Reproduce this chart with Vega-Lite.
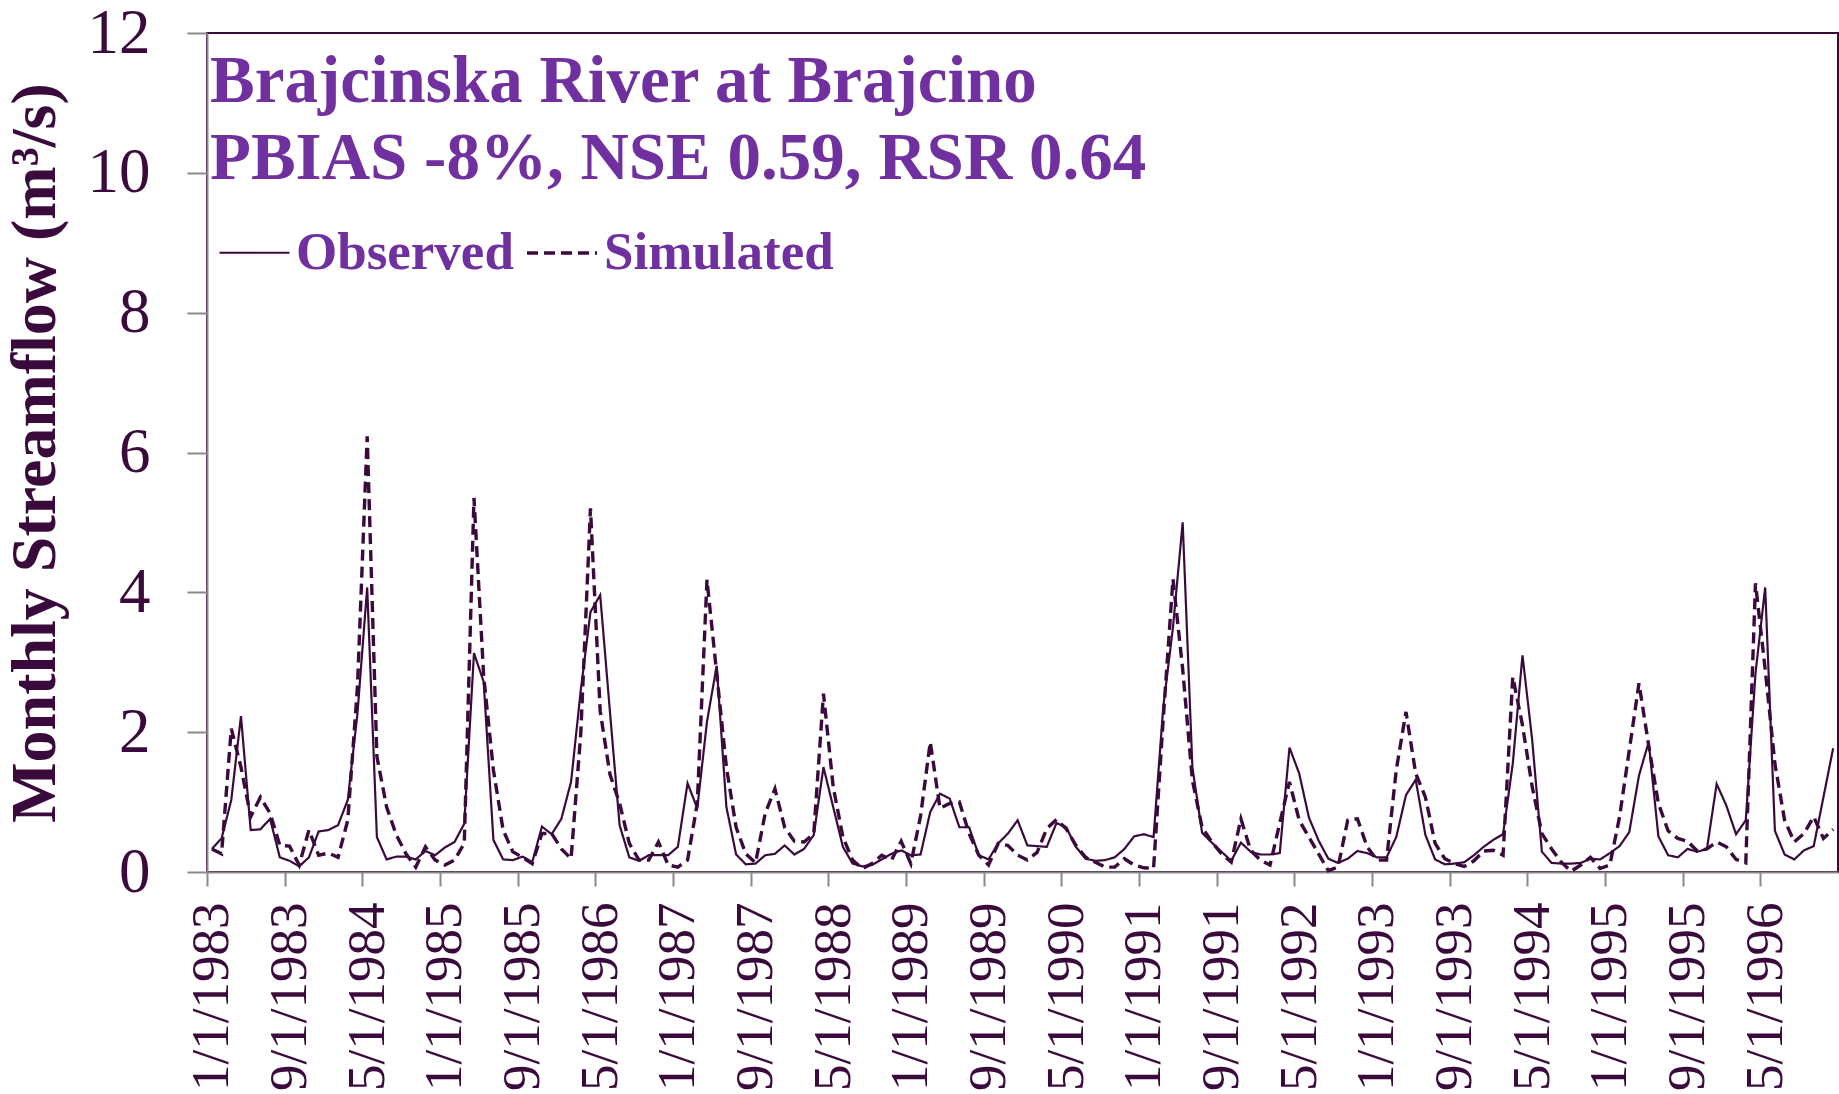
{
"$schema": "https://vega.github.io/schema/vega-lite/v6.json",
"width": 1631, "height": 839,
"autosize": {"type": "none"},
"padding": {"left": 207, "top": 33, "right": 1, "bottom": 222},
"background": "white",
"config": {"view": {"stroke": "#3B0A3D", "strokeWidth": 2}, "font": "Liberation Serif"},
"title": {"text": ["Brajcinska River at Brajcino", "PBIAS -8%, NSE 0.59, RSR 0.64"], "anchor": "start", "frame": "group", "orient": "top", "offset": 0, "dx": 3, "dy": 244, "baseline": "alphabetic", "font": "Liberation Serif", "fontSize": 67, "fontWeight": "bold", "color": "#7030A0", "lineHeight": 77},
"data": {"values": [
{"i":0,"d":"1/1/1983","Observed":0.33,"Simulated":0.33},
{"i":1,"d":"2/1/1983","Observed":0.48,"Simulated":0.26},
{"i":2,"d":"3/1/1983","Observed":1.03,"Simulated":2.05},
{"i":3,"d":"4/1/1983","Observed":2.23,"Simulated":1.50},
{"i":4,"d":"5/1/1983","Observed":0.60,"Simulated":0.79},
{"i":5,"d":"6/1/1983","Observed":0.61,"Simulated":1.07},
{"i":6,"d":"7/1/1983","Observed":0.76,"Simulated":0.84},
{"i":7,"d":"8/1/1983","Observed":0.21,"Simulated":0.38},
{"i":8,"d":"9/1/1983","Observed":0.16,"Simulated":0.37},
{"i":9,"d":"10/1/1983","Observed":0.08,"Simulated":0.10},
{"i":10,"d":"11/1/1983","Observed":0.21,"Simulated":0.60},
{"i":11,"d":"12/1/1983","Observed":0.58,"Simulated":0.24},
{"i":12,"d":"1/1/1984","Observed":0.60,"Simulated":0.27},
{"i":13,"d":"2/1/1984","Observed":0.67,"Simulated":0.21},
{"i":14,"d":"3/1/1984","Observed":1.03,"Simulated":0.74},
{"i":15,"d":"4/1/1984","Observed":2.27,"Simulated":2.65},
{"i":16,"d":"5/1/1984","Observed":4.07,"Simulated":6.23},
{"i":17,"d":"6/1/1984","Observed":0.50,"Simulated":1.65},
{"i":18,"d":"7/1/1984","Observed":0.18,"Simulated":0.93},
{"i":19,"d":"8/1/1984","Observed":0.22,"Simulated":0.53},
{"i":20,"d":"9/1/1984","Observed":0.22,"Simulated":0.26},
{"i":21,"d":"10/1/1984","Observed":0.18,"Simulated":0.07},
{"i":22,"d":"11/1/1984","Observed":0.30,"Simulated":0.36},
{"i":23,"d":"12/1/1984","Observed":0.24,"Simulated":0.17},
{"i":24,"d":"1/1/1985","Observed":0.35,"Simulated":0.10},
{"i":25,"d":"2/1/1985","Observed":0.43,"Simulated":0.17},
{"i":26,"d":"3/1/1985","Observed":0.69,"Simulated":0.41},
{"i":27,"d":"4/1/1985","Observed":3.13,"Simulated":5.35},
{"i":28,"d":"5/1/1985","Observed":2.72,"Simulated":2.80},
{"i":29,"d":"6/1/1985","Observed":0.46,"Simulated":1.46},
{"i":30,"d":"7/1/1985","Observed":0.18,"Simulated":0.60},
{"i":31,"d":"8/1/1985","Observed":0.17,"Simulated":0.29},
{"i":32,"d":"9/1/1985","Observed":0.22,"Simulated":0.21},
{"i":33,"d":"10/1/1985","Observed":0.14,"Simulated":0.12},
{"i":34,"d":"11/1/1985","Observed":0.65,"Simulated":0.55},
{"i":35,"d":"12/1/1985","Observed":0.54,"Simulated":0.55},
{"i":36,"d":"1/1/1986","Observed":0.76,"Simulated":0.33},
{"i":37,"d":"2/1/1986","Observed":1.29,"Simulated":0.19},
{"i":38,"d":"3/1/1986","Observed":2.60,"Simulated":1.98},
{"i":39,"d":"4/1/1986","Observed":3.72,"Simulated":5.20},
{"i":40,"d":"5/1/1986","Observed":3.96,"Simulated":2.30},
{"i":41,"d":"6/1/1986","Observed":2.30,"Simulated":1.40},
{"i":42,"d":"7/1/1986","Observed":0.67,"Simulated":0.98},
{"i":43,"d":"8/1/1986","Observed":0.21,"Simulated":0.41},
{"i":44,"d":"9/1/1986","Observed":0.16,"Simulated":0.17},
{"i":45,"d":"10/1/1986","Observed":0.24,"Simulated":0.17},
{"i":46,"d":"11/1/1986","Observed":0.24,"Simulated":0.43},
{"i":47,"d":"12/1/1986","Observed":0.24,"Simulated":0.10},
{"i":48,"d":"1/1/1987","Observed":0.36,"Simulated":0.07},
{"i":49,"d":"2/1/1987","Observed":1.27,"Simulated":0.17},
{"i":50,"d":"3/1/1987","Observed":0.91,"Simulated":0.98},
{"i":51,"d":"4/1/1987","Observed":2.15,"Simulated":4.18},
{"i":52,"d":"5/1/1987","Observed":2.95,"Simulated":2.84},
{"i":53,"d":"6/1/1987","Observed":0.93,"Simulated":1.50},
{"i":54,"d":"7/1/1987","Observed":0.25,"Simulated":0.64},
{"i":55,"d":"8/1/1987","Observed":0.11,"Simulated":0.26},
{"i":56,"d":"9/1/1987","Observed":0.12,"Simulated":0.13},
{"i":57,"d":"10/1/1987","Observed":0.24,"Simulated":0.84},
{"i":58,"d":"11/1/1987","Observed":0.26,"Simulated":1.19},
{"i":59,"d":"12/1/1987","Observed":0.38,"Simulated":0.64},
{"i":60,"d":"1/1/1988","Observed":0.25,"Simulated":0.44},
{"i":61,"d":"2/1/1988","Observed":0.33,"Simulated":0.43},
{"i":62,"d":"3/1/1988","Observed":0.53,"Simulated":0.55},
{"i":63,"d":"4/1/1988","Observed":1.50,"Simulated":2.55},
{"i":64,"d":"5/1/1988","Observed":0.93,"Simulated":1.22},
{"i":65,"d":"6/1/1988","Observed":0.36,"Simulated":0.50},
{"i":66,"d":"7/1/1988","Observed":0.12,"Simulated":0.17},
{"i":67,"d":"8/1/1988","Observed":0.08,"Simulated":0.05},
{"i":68,"d":"9/1/1988","Observed":0.10,"Simulated":0.12},
{"i":69,"d":"10/1/1988","Observed":0.18,"Simulated":0.24},
{"i":70,"d":"11/1/1988","Observed":0.26,"Simulated":0.17},
{"i":71,"d":"12/1/1988","Observed":0.31,"Simulated":0.44},
{"i":72,"d":"1/1/1989","Observed":0.24,"Simulated":0.12},
{"i":73,"d":"2/1/1989","Observed":0.25,"Simulated":0.80},
{"i":74,"d":"3/1/1989","Observed":0.86,"Simulated":1.86},
{"i":75,"d":"4/1/1989","Observed":1.12,"Simulated":0.91},
{"i":76,"d":"5/1/1989","Observed":1.05,"Simulated":0.98},
{"i":77,"d":"6/1/1989","Observed":0.64,"Simulated":1.00},
{"i":78,"d":"7/1/1989","Observed":0.64,"Simulated":0.55},
{"i":79,"d":"8/1/1989","Observed":0.24,"Simulated":0.24},
{"i":80,"d":"9/1/1989","Observed":0.18,"Simulated":0.10},
{"i":81,"d":"10/1/1989","Observed":0.41,"Simulated":0.41},
{"i":82,"d":"11/1/1989","Observed":0.55,"Simulated":0.38},
{"i":83,"d":"12/1/1989","Observed":0.74,"Simulated":0.24},
{"i":84,"d":"1/1/1990","Observed":0.38,"Simulated":0.17},
{"i":85,"d":"2/1/1990","Observed":0.37,"Simulated":0.28},
{"i":86,"d":"3/1/1990","Observed":0.36,"Simulated":0.62},
{"i":87,"d":"4/1/1990","Observed":0.70,"Simulated":0.75},
{"i":88,"d":"5/1/1990","Observed":0.64,"Simulated":0.62},
{"i":89,"d":"6/1/1990","Observed":0.36,"Simulated":0.38},
{"i":90,"d":"7/1/1990","Observed":0.19,"Simulated":0.21},
{"i":91,"d":"8/1/1990","Observed":0.16,"Simulated":0.14},
{"i":92,"d":"9/1/1990","Observed":0.17,"Simulated":0.07},
{"i":93,"d":"10/1/1990","Observed":0.21,"Simulated":0.07},
{"i":94,"d":"11/1/1990","Observed":0.33,"Simulated":0.19},
{"i":95,"d":"12/1/1990","Observed":0.51,"Simulated":0.10},
{"i":96,"d":"1/1/1991","Observed":0.54,"Simulated":0.06},
{"i":97,"d":"2/1/1991","Observed":0.50,"Simulated":0.05},
{"i":98,"d":"3/1/1991","Observed":2.36,"Simulated":2.20},
{"i":99,"d":"4/1/1991","Observed":3.50,"Simulated":4.19},
{"i":100,"d":"5/1/1991","Observed":5.00,"Simulated":2.90},
{"i":101,"d":"6/1/1991","Observed":1.50,"Simulated":1.31},
{"i":102,"d":"7/1/1991","Observed":0.56,"Simulated":0.64},
{"i":103,"d":"8/1/1991","Observed":0.42,"Simulated":0.43},
{"i":104,"d":"9/1/1991","Observed":0.29,"Simulated":0.26},
{"i":105,"d":"10/1/1991","Observed":0.16,"Simulated":0.14},
{"i":106,"d":"11/1/1991","Observed":0.42,"Simulated":0.76},
{"i":107,"d":"12/1/1991","Observed":0.29,"Simulated":0.31},
{"i":108,"d":"1/1/1992","Observed":0.25,"Simulated":0.17},
{"i":109,"d":"2/1/1992","Observed":0.25,"Simulated":0.10},
{"i":110,"d":"3/1/1992","Observed":0.27,"Simulated":0.70},
{"i":111,"d":"4/1/1992","Observed":1.78,"Simulated":1.29},
{"i":112,"d":"5/1/1992","Observed":1.41,"Simulated":0.74},
{"i":113,"d":"6/1/1992","Observed":0.78,"Simulated":0.50},
{"i":114,"d":"7/1/1992","Observed":0.45,"Simulated":0.26},
{"i":115,"d":"8/1/1992","Observed":0.19,"Simulated":0.02},
{"i":116,"d":"9/1/1992","Observed":0.13,"Simulated":0.07},
{"i":117,"d":"10/1/1992","Observed":0.19,"Simulated":0.74},
{"i":118,"d":"11/1/1992","Observed":0.30,"Simulated":0.76},
{"i":119,"d":"12/1/1992","Observed":0.27,"Simulated":0.36},
{"i":120,"d":"1/1/1993","Observed":0.21,"Simulated":0.17},
{"i":121,"d":"2/1/1993","Observed":0.21,"Simulated":0.17},
{"i":122,"d":"3/1/1993","Observed":0.50,"Simulated":1.46},
{"i":123,"d":"4/1/1993","Observed":1.10,"Simulated":2.29},
{"i":124,"d":"5/1/1993","Observed":1.32,"Simulated":1.41},
{"i":125,"d":"6/1/1993","Observed":0.53,"Simulated":1.07},
{"i":126,"d":"7/1/1993","Observed":0.18,"Simulated":0.41},
{"i":127,"d":"8/1/1993","Observed":0.11,"Simulated":0.19},
{"i":128,"d":"9/1/1993","Observed":0.12,"Simulated":0.12},
{"i":129,"d":"10/1/1993","Observed":0.14,"Simulated":0.08},
{"i":130,"d":"11/1/1993","Observed":0.24,"Simulated":0.16},
{"i":131,"d":"12/1/1993","Observed":0.36,"Simulated":0.30},
{"i":132,"d":"1/1/1994","Observed":0.46,"Simulated":0.31},
{"i":133,"d":"2/1/1994","Observed":0.54,"Simulated":0.24},
{"i":134,"d":"3/1/1994","Observed":1.55,"Simulated":2.79},
{"i":135,"d":"4/1/1994","Observed":3.10,"Simulated":2.10},
{"i":136,"d":"5/1/1994","Observed":1.89,"Simulated":1.22},
{"i":137,"d":"6/1/1994","Observed":0.29,"Simulated":0.55},
{"i":138,"d":"7/1/1994","Observed":0.13,"Simulated":0.33},
{"i":139,"d":"8/1/1994","Observed":0.12,"Simulated":0.14},
{"i":140,"d":"9/1/1994","Observed":0.12,"Simulated":0.01},
{"i":141,"d":"10/1/1994","Observed":0.13,"Simulated":0.10},
{"i":142,"d":"11/1/1994","Observed":0.19,"Simulated":0.21},
{"i":143,"d":"12/1/1994","Observed":0.18,"Simulated":0.05},
{"i":144,"d":"1/1/1995","Observed":0.27,"Simulated":0.10},
{"i":145,"d":"2/1/1995","Observed":0.37,"Simulated":0.79},
{"i":146,"d":"3/1/1995","Observed":0.57,"Simulated":1.74},
{"i":147,"d":"4/1/1995","Observed":1.38,"Simulated":2.70},
{"i":148,"d":"5/1/1995","Observed":1.86,"Simulated":1.81},
{"i":149,"d":"6/1/1995","Observed":0.51,"Simulated":0.98},
{"i":150,"d":"7/1/1995","Observed":0.24,"Simulated":0.59},
{"i":151,"d":"8/1/1995","Observed":0.21,"Simulated":0.48},
{"i":152,"d":"9/1/1995","Observed":0.33,"Simulated":0.44},
{"i":153,"d":"10/1/1995","Observed":0.29,"Simulated":0.30},
{"i":154,"d":"11/1/1995","Observed":0.33,"Simulated":0.33},
{"i":155,"d":"12/1/1995","Observed":1.26,"Simulated":0.43},
{"i":156,"d":"1/1/1996","Observed":0.95,"Simulated":0.36},
{"i":157,"d":"2/1/1996","Observed":0.54,"Simulated":0.18},
{"i":158,"d":"3/1/1996","Observed":0.74,"Simulated":0.13},
{"i":159,"d":"4/1/1996","Observed":2.84,"Simulated":4.13},
{"i":160,"d":"5/1/1996","Observed":4.07,"Simulated":2.90},
{"i":161,"d":"6/1/1996","Observed":0.59,"Simulated":1.55},
{"i":162,"d":"7/1/1996","Observed":0.25,"Simulated":0.74},
{"i":163,"d":"8/1/1996","Observed":0.18,"Simulated":0.43},
{"i":164,"d":"9/1/1996","Observed":0.31,"Simulated":0.55},
{"i":165,"d":"10/1/1996","Observed":0.37,"Simulated":0.79},
{"i":166,"d":"11/1/1996","Observed":1.07,"Simulated":0.48},
{"i":167,"d":"12/1/1996","Observed":1.77,"Simulated":0.61}
]},
"transform": [{"fold": ["Observed", "Simulated"], "as": ["series", "flow"]}],
"mark": {"type": "line", "color": "#3B0A3D"},
"encoding": {
  "x": {"field": "d", "type": "ordinal", "sort": null, "scale": {"type": "point", "padding": 0.5},
    "axis": {"values": ["1/1/1983","9/1/1983","5/1/1984","1/1/1985","9/1/1985","5/1/1986","1/1/1987","9/1/1987","5/1/1988","1/1/1989","9/1/1989","5/1/1990","1/1/1991","9/1/1991","5/1/1992","1/1/1993","9/1/1993","5/1/1994","1/1/1995","9/1/1995","5/1/1996"],
      "title": null, "labelAngle": -90, "labelFont": "Liberation Serif", "labelFontSize": 53, "labelColor": "#3B0A3D", "labelPadding": 16, "labelLimit": 400, "tickSize": 14, "tickColor": "#898989", "tickWidth": 2, "domainColor": "#898989", "domainWidth": 2, "tickOffset": -4.85, "labelOffset": 4.85, "grid": false, "labelOverlap": false}},
  "y": {"field": "flow", "type": "quantitative", "scale": {"domain": [0, 12], "nice": false},
    "axis": {"values": [0, 2, 4, 6, 8, 10, 12], "title": "Monthly Streamflow (m³/s)", "titleFont": "Liberation Serif", "titleFontSize": 64, "titleFontWeight": "bold", "titleColor": "#3B0A3D", "titlePadding": 20, "labelFont": "Liberation Serif", "labelFontSize": 63, "labelColor": "#3B0A3D", "labelPadding": 37, "tickSize": 20, "tickColor": "#898989", "tickWidth": 2, "domainColor": "#898989", "domainWidth": 2, "grid": false}},
  "order": {"field": "i", "type": "quantitative"},
  "strokeDash": {"field": "series", "type": "nominal", "scale": {"domain": ["Observed", "Simulated"], "range": [[1, 0], [11, 6]]},
    "legend": {"orient": "none", "legendX": 11, "legendY": 183, "direction": "horizontal", "title": null, "symbolType": "stroke", "symbolSize": 4900, "symbolStrokeWidth": 2.5, "symbolStrokeColor": "#3B0A3D", "labelFont": "Liberation Serif", "labelFontSize": 53, "labelFontWeight": "bold", "labelColor": "#7030A0", "labelOffset": 5, "columnPadding": 6, "padding": 0, "labelLimit": 0}},
  "strokeWidth": {"field": "series", "type": "ordinal", "scale": {"domain": ["Observed", "Simulated"], "range": [2.2, 3.4]}, "legend": null}
}
}
